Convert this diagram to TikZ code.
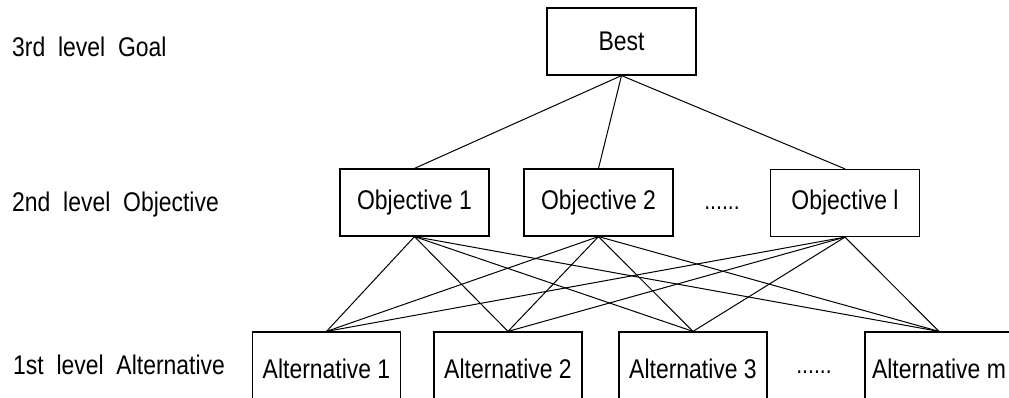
\documentclass[tikz,border=0pt]{standalone}
\usepackage{fontspec}
\setmainfont{Liberation Sans}[FakeStretch=0.85]

\begin{document}
\begin{tikzpicture}[x=1pt,y=-1pt,
    box/.style={draw=black,line width=1.2pt,minimum width=149pt,minimum height=67pt,inner sep=0pt,font=\fontsize{27}{32}\selectfont},
    altbox/.style={box,minimum width=148pt,minimum height=74pt},
    level/.style={anchor=west,inner sep=0pt,font=\fontsize{27}{32}\selectfont},
    dotsnode/.style={inner sep=0pt,font=\fontsize{25}{30}\selectfont}]

  %% Fix the page
  \useasboundingbox (0,0) rectangle (1009,398);

  %% Level names on the left
  \node[level] (lvlgoal) at (12,47) {3rd~~level~~Goal};
  \node[level] (lvlobj) at (12,205) {2nd~~level~~Objective};
  \node[level] (lvlalt) at (13,365) {1st~~level~~Alternative};

  %% Goal
  \node[box] (best) at (621.5,41.5) {Best};

  %% Objectives
  \node[box] (obj1) at (414.5,202.5) {Objective 1};
  \node[box] (obj2) at (598.5,202.5) {Objective 2};
  \node[box] (objl) at (845,203) {Objective l};
  \node[dotsnode] (dotsobj) at (722,208) {......};

  %% Alternatives
  \node[altbox] (alt1) at (326.5,369) {Alternative 1};
  \node[altbox] (alt2) at (508,369) {Alternative 2};
  \node[altbox] (alt3) at (693,369) {Alternative 3};
  \node[altbox] (altm) at (939,369) {Alternative m};
  \node[dotsnode] (dotsalt) at (814,372) {......};

  %% Connect each level to the next one
  \foreach \o in {obj1,obj2,objl}{
    \draw[line width=1pt] (best.south) -- (\o.north);
    \foreach \a in {alt1,alt2,alt3,altm}{
      \draw[line width=1pt] (\o.south) -- (\a.north);
    }
  }

\end{tikzpicture}
\end{document}
